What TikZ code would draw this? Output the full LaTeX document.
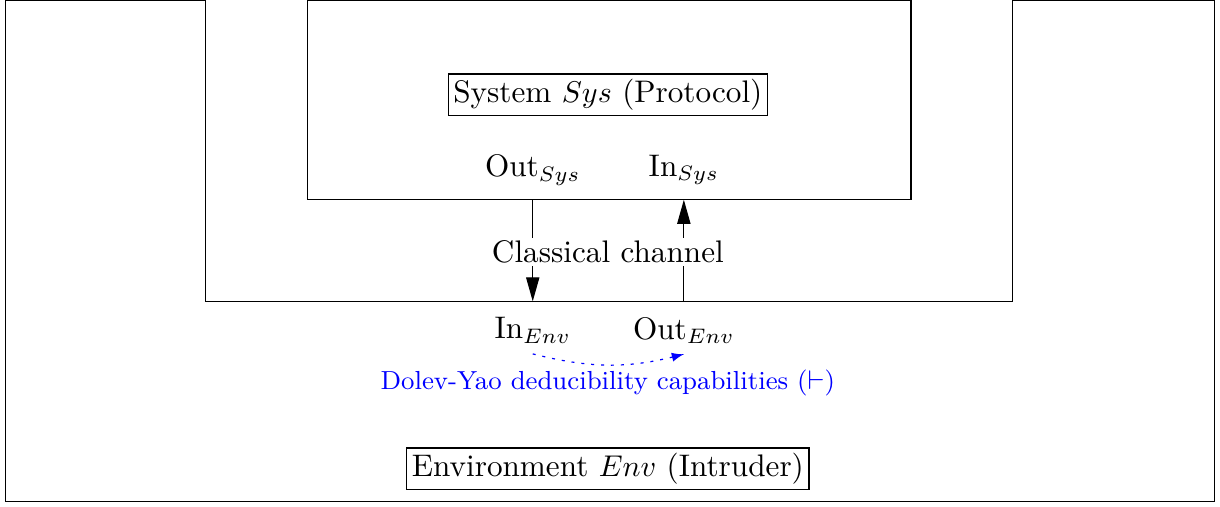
\documentclass[tikz,border=0pt]{standalone}
\usetikzlibrary{arrows.meta,positioning}
\begin{document}
\begin{tikzpicture}[>={Triangle[length=8pt,width=4.4pt]}, font=\fontsize{10.4}{12.5}\selectfont]
\useasboundingbox (0,0) rectangle (14.29,-5.93);
\draw (2.41,0) -- (0.06,0) -- (0.06,-5.87) -- (14.23,-5.87) -- (14.23,0) -- (11.86,0);
\draw (2.41,0) -- (2.41,-3.53) -- (11.86,-3.53) -- (11.86,0);
\draw (3.60,0) rectangle (10.67,-2.34);
\node[draw, inner sep=1.7pt] (sys) at (7.12,-1.11) {System $Sys$ (Protocol)};
\node (outsys) at (6.24,-1.99) {Out$_{Sys}$};
\node (insys) at (8.01,-1.99) {In$_{Sys}$};
\coordinate (sysout) at (6.24,-2.34);
\coordinate (envin) at (6.24,-3.53);
\coordinate (envout) at (8.01,-3.53);
\coordinate (sysin) at (8.01,-2.34);
\draw[->] (sysout) -- (envin);
\draw[->] (envout) -- (sysin);
\node[fill=white, inner sep=1pt] (chan) at (7.12,-2.95) {Classical channel};
\node (inenv) at (6.24,-3.87) {In$_{Env}$};
\node (outenv) at (8.01,-3.87) {Out$_{Env}$};
\draw[blue, dash pattern=on 1pt off 2.3pt, -latex] (inenv.south) to[bend right=14] (outenv.south);
\node[blue, font=\fontsize{8.7}{10.5}\selectfont] (deduce) at (7.12,-4.49) {Dolev-Yao deducibility capabilities ($\vdash$)};
\node[draw, inner sep=1.7pt] (env) at (7.12,-5.49) {Environment $Env$ (Intruder)};
\end{tikzpicture}
\end{document}
